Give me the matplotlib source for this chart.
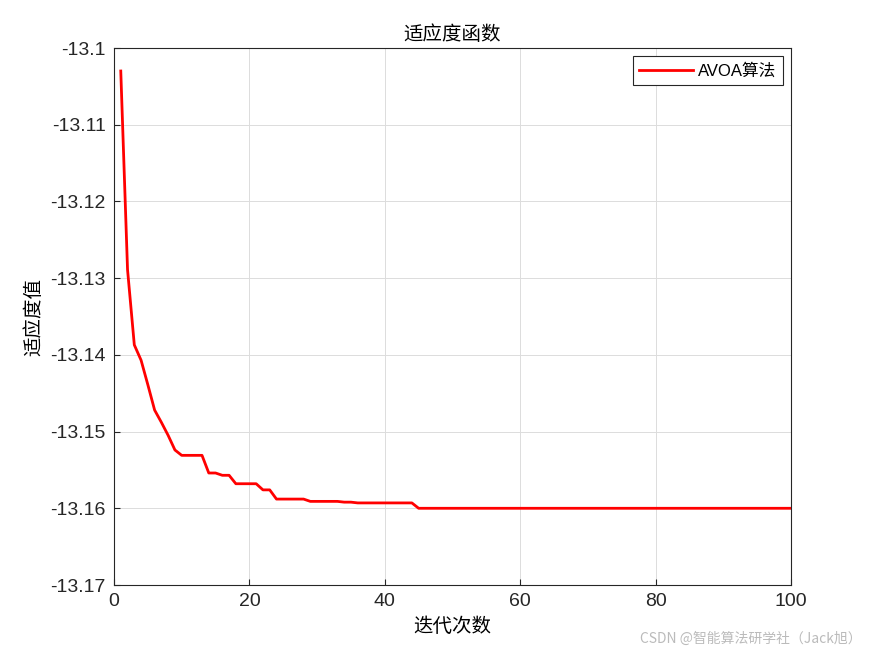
import matplotlib
matplotlib.use("Agg")
import matplotlib.pyplot as plt
import numpy as np

plt.rcParams['font.family'] = ['Liberation Sans', 'Noto Sans CJK SC', 'DejaVu Sans']

iters = np.arange(1, 101)
head = [-13.1030, -13.1289, -13.1387, -13.1407, -13.1439, -13.1472, -13.1488, -13.1505,
        -13.1524, -13.1531, -13.1531, -13.1531, -13.1531, -13.1554, -13.1554, -13.1557,
        -13.1557, -13.1568, -13.1568, -13.1568, -13.1568, -13.1576, -13.1576, -13.1588,
        -13.1588, -13.1588, -13.1588, -13.1588, -13.1591, -13.1591, -13.1591, -13.1591,
        -13.1591, -13.1592, -13.1592, -13.1593, -13.1593, -13.1593, -13.1593, -13.1593,
        -13.1593, -13.1593, -13.1593, -13.1593]
fitness = head + [-13.1600] * (100 - len(head))

xticks = [0, 20, 40, 60, 80, 100]
yticks = [-13.17, -13.16, -13.15, -13.14, -13.13, -13.12, -13.11, -13.1]
ytick_labels = ['-13.17', '-13.16', '-13.15', '-13.14', '-13.13', '-13.12', '-13.11', '-13.1']

fig = plt.figure(figsize=(8.75, 6.56), dpi=100)
ax = fig.add_axes([114/875, 1-585/656, (791-114)/875, (585-48)/656])
ax.plot(iters, fitness, color='red', lw=2, label='AVOA算法')
ax.set_xlim(0, 100)
ax.set_ylim(-13.17, -13.1)
ax.set_xticks(xticks)
ax.set_yticks(yticks)
ax.set_yticklabels(ytick_labels)
ax.tick_params(labelsize=14, direction='in', length=4, colors='#262626', pad=6)
ax.grid(True, color='#dcdcdc', lw=0.7)
for s in ax.spines.values():
    s.set_color('#262626'); s.set_linewidth(0.8)
ax.set_title('适应度函数', fontsize=14, family=['Noto Sans CJK SC'])
ax.set_xlabel('迭代次数', fontsize=14, family=['Noto Sans CJK SC'])
ax.set_ylabel('适应度值', fontsize=14, family=['Noto Sans CJK SC'])
leg = ax.legend(loc='upper right', fontsize=12, fancybox=False, framealpha=1,
                edgecolor='#262626', handlelength=3.2, handletextpad=0.3)
leg.get_frame().set_linewidth(0.8)
fig.text(0.985, 0.015, 'CSDN @智能算法研学社（Jack旭）', ha='right', va='bottom',
         fontsize=10, color='#bbbbbb', family=['Noto Sans CJK SC'])
fig.savefig('out.png', dpi=100)
